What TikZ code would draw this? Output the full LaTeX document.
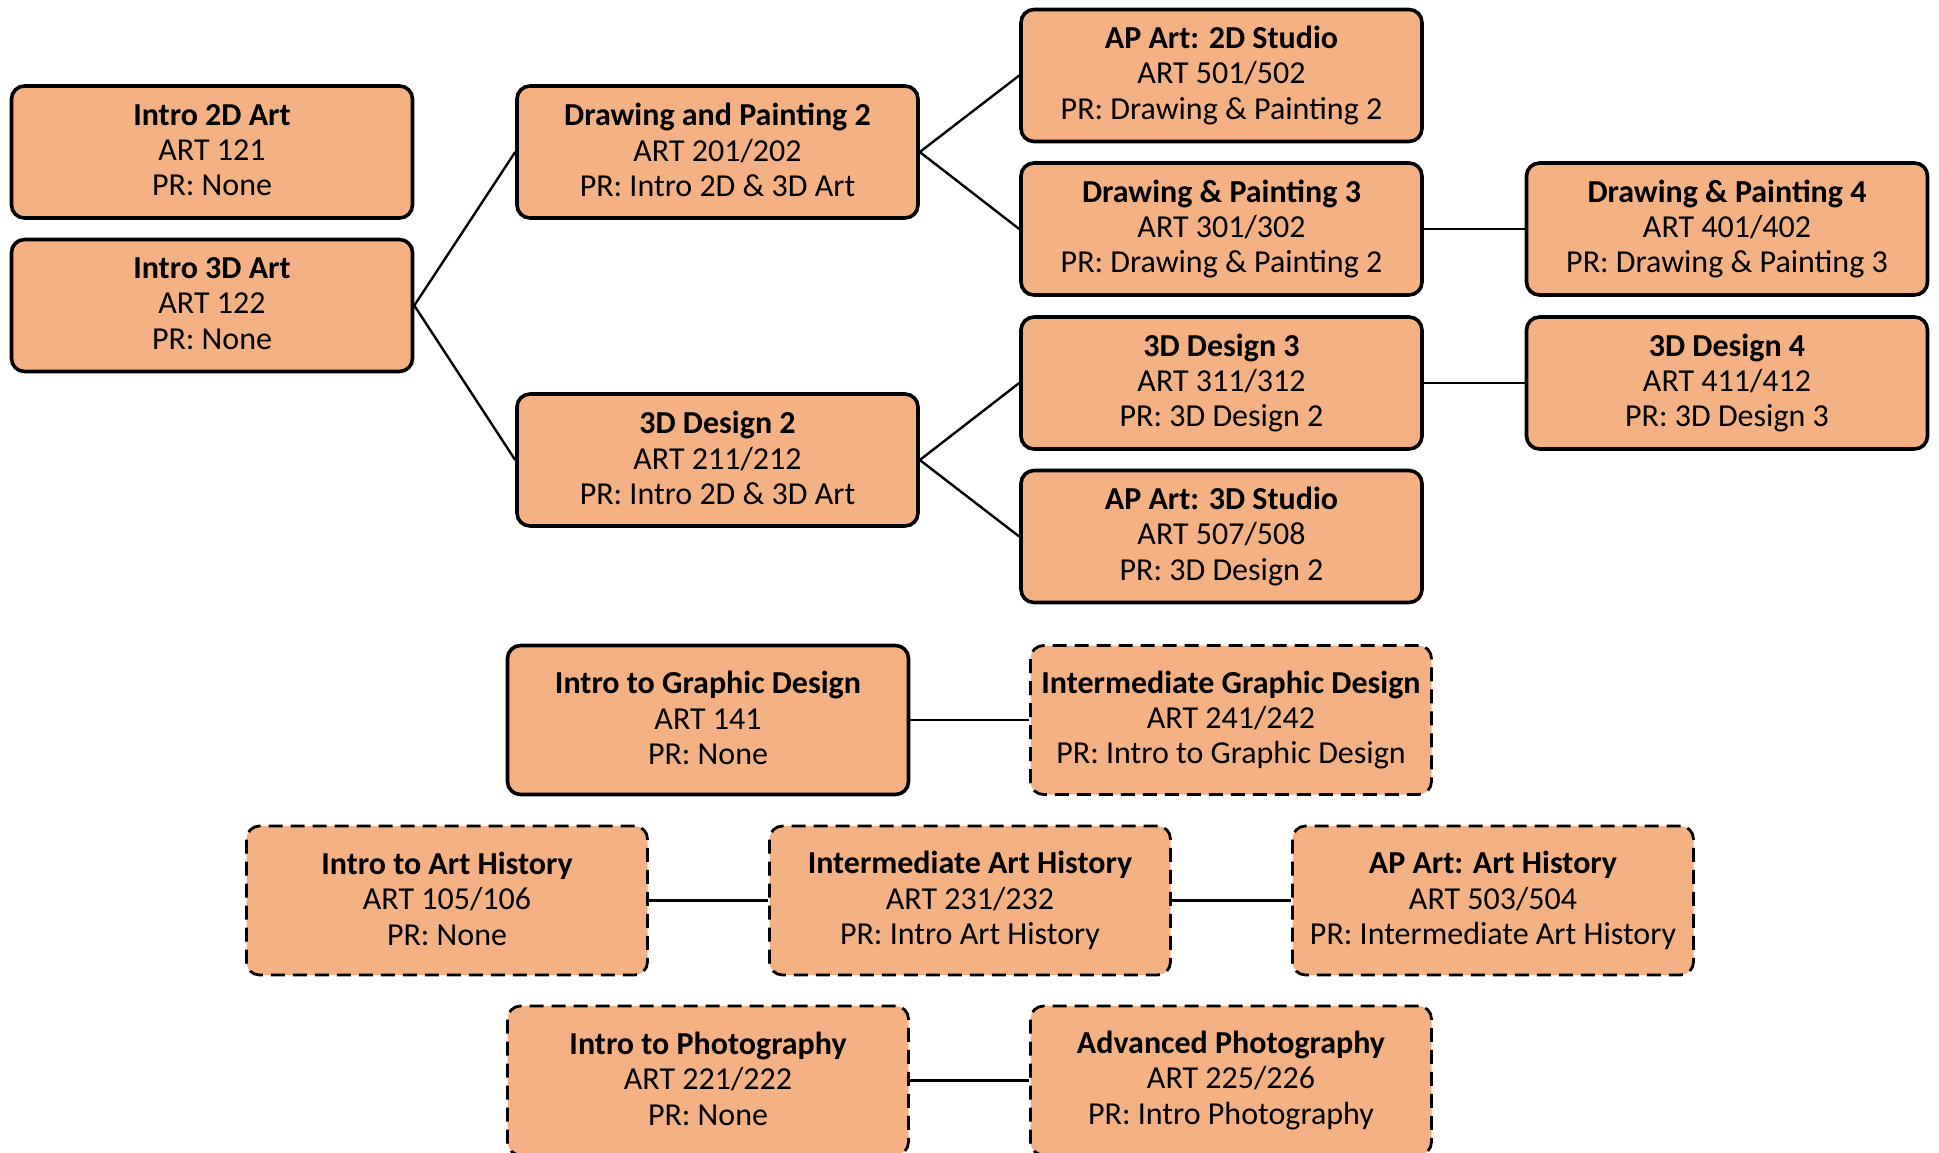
\documentclass[tikz,border=0pt]{standalone}
\usepackage{fontspec}
\setmainfont{Carlito}
\definecolor{boxfill}{HTML}{F4B183}
\newcommand{\linestrut}{\rule[-4pt]{0pt}{35pt}}
\begin{document}
\begin{tikzpicture}[x=1pt,y=-1pt,
  course/.style={draw=black, fill=boxfill, rounded corners=13pt, line width=3.6pt,
    minimum width=401pt, minimum height=132pt, align=center, inner sep=0pt,
    font=\fontsize{32}{35.4}\selectfont,
    execute at begin node=\linestrut, execute at end node=\linestrut},
  tall/.style={minimum height=149pt},
  optional/.style={line width=2.8pt, dash pattern=on 14pt off 8pt},
  link/.style={draw=black, line width=2.4pt}]
\useasboundingbox (0,0) rectangle (1939,1152);
\node[course] (i2d) at (212,152) {\textbf{Intro 2D Art}\\ART 121\\PR: None};
\node[course] (i3d) at (212,305.5) {\textbf{Intro 3D Art}\\ART 122\\PR: None};
\node[course] (dp2) at (717.5,152) {\textbf{Drawing and Painting 2}\\ART 201/202\\PR: Intro 2D \& 3D Art};
\node[course] (d2) at (717.5,460) {\textbf{3D Design 2}\\ART 211/212\\PR: Intro 2D \& 3D Art};
\node[course] (ap2) at (1221.5,75.5) {\textbf{AP Art: 2D Studio}\\ART 501/502\\PR: Drawing \& Painting 2};
\node[course] (dp3) at (1221.5,229) {\textbf{Drawing \& Painting 3}\\ART 301/302\\PR: Drawing \& Painting 2};
\node[course] (d3) at (1221.5,383) {\textbf{3D Design 3}\\ART 311/312\\PR: 3D Design 2};
\node[course] (ap3) at (1221.5,536.5) {\textbf{AP Art: 3D Studio}\\ART 507/508\\PR: 3D Design 2};
\node[course] (dp4) at (1727,229) {\textbf{Drawing \& Painting 4}\\ART 401/402\\PR: Drawing \& Painting 3};
\node[course] (d4) at (1727,383) {\textbf{3D Design 4}\\ART 411/412\\PR: 3D Design 3};
\node[course,tall] (igd) at (708,720) {\textbf{Intro to Graphic Design}\\ART 141\\PR: None};
\node[course,tall,optional] (mgd) at (1231,720) {\textbf{Intermediate Graphic Design}\\ART 241/242\\PR: Intro to Graphic Design};
\node[course,tall,optional] (iah) at (447,900.5) {\textbf{Intro to Art History}\\ART 105/106\\PR: None};
\node[course,tall,optional] (mah) at (970,900.5) {\textbf{Intermediate Art History}\\ART 231/232\\PR: Intro Art History};
\node[course,tall,optional] (aah) at (1493,900.5) {\textbf{AP Art: Art History}\\ART 503/504\\PR: Intermediate Art History};
\node[course,tall,optional] (iph) at (708,1080.5) {\textbf{Intro to Photography}\\ART 221/222\\PR: None};
\node[course,tall,optional] (aph) at (1231,1080.5) {\textbf{Advanced Photography}\\ART 225/226\\PR: Intro Photography};
\draw[link] (i3d.east) -- (dp2.west);
\draw[link] (i3d.east) -- (d2.west);
\draw[link] (dp2.east) -- (ap2.west);
\draw[link] (dp2.east) -- (dp3.west);
\draw[link] (d2.east) -- (d3.west);
\draw[link] (d2.east) -- (ap3.west);
\draw[link] (dp3) -- (dp4);
\draw[link] (d3) -- (d4);
\draw[link] (igd) -- (mgd);
\draw[link] (iah) -- (mah);
\draw[link] (mah) -- (aah);
\draw[link] (iph) -- (aph);
\end{tikzpicture}
\end{document}
